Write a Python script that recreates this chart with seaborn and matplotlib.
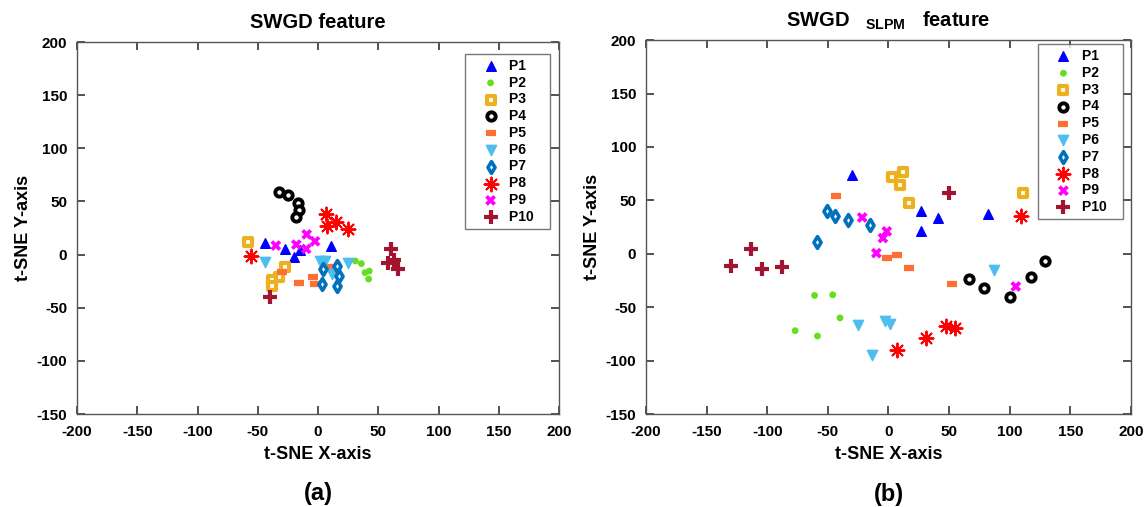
"""
t-SNE 特征散点图：SWGD 与 SWGD_SLPM 对比
"""
import numpy as np
import pandas as pd
import matplotlib
matplotlib.use("Agg")
import matplotlib.pyplot as plt
import seaborn as sns

sns.set_style("white")
plt.rcParams['font.family'] = ['Liberation Sans', 'DejaVu Sans']
plt.rcParams['font.weight'] = 'bold'
plt.rcParams['mathtext.fontset'] = 'custom'
plt.rcParams['mathtext.bf'] = 'Liberation Sans:bold'
plt.rcParams['mathtext.rm'] = 'Liberation Sans:bold'
plt.rcParams['axes.unicode_minus'] = False
plt.rcParams['text.color'] = 'black'
plt.rcParams['axes.labelcolor'] = 'black'
plt.rcParams['xtick.color'] = 'black'
plt.rcParams['ytick.color'] = 'black'

# 类别，每类 5 个点
classes = ['P1', 'P2', 'P3', 'P4', 'P5', 'P6', 'P7', 'P8', 'P9', 'P10']
n_per_class = 5

# (a) SWGD feature
swgd_x = [-44, -27, -20, -15, 11,
          31, 36, 39, 42.5, 42,
          -58, -27, -32, -38.6, -38,
          -32, -24.7, -17, -16, -18.6,
          -30, -16, -4, -2.5, 12,
          -43.6, 1.7, 6, 11.4, 25,
          4, 16, 17.5, 3, 16,
          -56, 6.4, 7.8, 15, 25,
          -35, -18, -9.4, -2.5, -9.8,
          -40, 60.6, 57.8, 63, 66.5]
swgd_y = [11, 5, -2, 4, 8.5,
          -6, -8.5, -17, -15.5, -23,
          11.6, -11.6, -21, -24, -30,
          59, 56, 49, 41.5, 35,
          -16, -27, -21, -28, -11.5,
          -7, -6.3, -6.3, -18, -8,
          -13.5, -11, -20.5, -27.4, -30,
          -1, 38.4, 26.7, 30.5, 24,
          8.5, 9.4, 19, 12.5, 5.4,
          -40, 5.7, -7.8, -5.4, -14]

# (b) SWGD_SLPM feature
slpm_x = [-30, 27, 41, 27, 82,
          -77, -61, -58.6, -46, -40,
          3, 12, 9.3, 17, 111,
          66, 78.6, 100.6, 117.7, 129,
          -43, -1.4, 7, 17, 52,
          87, -25, -2.5, 1, -14,
          -51, -44, -33, -15, -59,
          109, 7, 31, 47.6, 55,
          -21.7, -1.4, -4.6, -10, 105,
          -130, -113, -104, -88, 50]
slpm_y = [74, 40, 33.4, 21, 37,
          -72, -39, -77, -38.4, -60,
          72, 76.5, 64, 47.4, 57,
          -23.4, -32, -40.5, -21.8, -7.2,
          54, -4, -1.6, -13.4, -28,
          -15.6, -66.4, -63.4, -65.5, -95,
          40, 35, 32, 26.5, 10.6,
          35.6, -90.5, -79, -67.4, -69.5,
          34, 21, 14.7, 0.6, -30.6,
          -11, 4.4, -14, -12.5, 57]

# 每类的标记样式
styles = {
    'P1': dict(marker='^', s=48, color='#0000ff', edgecolor='#0000ff', linewidth=1),
    'P2': dict(marker='o', s=24, color='#66dd22', edgecolor='none'),
    'P3': dict(marker='s', s=32, facecolor='white', edgecolor='#edb120', linewidth=3.0),
    'P4': dict(marker='o', s=36, facecolor='white', edgecolor='black', linewidth=2.8),
    'P5': dict(marker='_', s=60, color='#ff6f33', linewidth=4.5),
    'P6': dict(marker='v', s=55, color='#4dbeee', edgecolor='#4dbeee', linewidth=1),
    'P7': dict(marker='d', s=36, facecolor='white', edgecolor='#0072bd', linewidth=2.6),
    'P8': dict(marker=(8, 2, 0), s=100, color='#ff0000', linewidth=1.4),
    'P9': dict(marker='X', s=60, color='#ff00ff', edgecolor='none'),
    'P10': dict(marker='+', s=110, color='#a2142f', linewidth=3.0),
}

labels = np.repeat(classes, n_per_class)
df_a = pd.DataFrame({'x': swgd_x, 'y': swgd_y, 'cls': labels})
df_b = pd.DataFrame({'x': slpm_x, 'y': slpm_y, 'cls': labels})

fig = plt.figure(figsize=(11.46, 5.07), dpi=100)
ax_a = fig.add_axes([0.0672, 0.1834, 0.4206, 0.7337])
ax_b = fig.add_axes([0.5637, 0.1834, 0.4232, 0.7375])


def draw_panel(ax, df, title, tag, leg_anchor):
    for c in classes:
        sub = df[df['cls'] == c]
        # 图例文字后留空格，使图例框宽度接近原图
        sns.scatterplot(data=sub, x='x', y='y', ax=ax, label=c + '   ', **styles[c])
    ax.set_xlim(-200, 200)
    ax.set_ylim(-150, 200)
    ax.set_xticks(np.arange(-200, 201, 50))
    ax.set_yticks(np.arange(-150, 201, 50))
    ax.tick_params(direction='in', top=True, right=True, bottom=True, left=True,
                   length=6, width=1.2, color='#333333', labelsize=11)
    ax.tick_params(axis='x', pad=8)
    ax.tick_params(axis='y', pad=7)
    for t in ax.get_xticklabels() + ax.get_yticklabels():
        t.set_fontweight('bold')
    for sp in ax.spines.values():
        sp.set_color('#555555')
        sp.set_linewidth(1.0)
    ax.set_xlabel('t-SNE X-axis', fontsize=13, fontweight='bold', labelpad=5)
    ax.set_ylabel('t-SNE Y-axis', fontsize=13, fontweight='bold', labelpad=3)
    ax.set_title(title, fontsize=14.5, fontweight='bold', pad=10)
    leg = ax.legend(loc='upper right', bbox_to_anchor=leg_anchor, fontsize=10,
                    frameon=True, fancybox=False, borderaxespad=0,
                    handletextpad=-0.2, labelspacing=0.2, borderpad=0.35,
                    handlelength=3.0)
    leg.get_frame().set_edgecolor('#555555')
    leg.get_frame().set_linewidth(1.0)
    for t in leg.get_texts():
        t.set_fontweight('bold')
    ax.text(0.5, -0.215, tag, transform=ax.transAxes, ha='center', va='center',
            fontsize=17, fontweight='bold')


draw_panel(ax_a, df_a, 'SWGD feature', '(a)', (0.981, 0.968))
draw_panel(ax_b, df_b, r'SWGD   $_{\mathbf{SLPM}}$   feature', '(b)', (0.983, 0.989))

plt.savefig('out.png', dpi=100)
